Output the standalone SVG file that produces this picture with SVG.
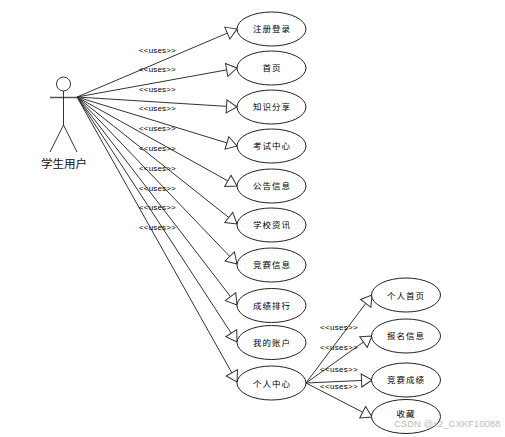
<svg xmlns="http://www.w3.org/2000/svg" width="505" height="437" viewBox="0 0 505 437">
<style>
.c{fill:none;stroke:#333;stroke-width:1;marker-end:url(#a)}
.n ellipse{fill:#fff;stroke:#222;stroke-width:1}
.n text{font:8.500px "Noto Sans CJK SC","Liberation Sans",sans-serif;letter-spacing:1px;text-anchor:middle;fill:#000}
.u{font:8px "Liberation Sans",Arial,sans-serif;fill:#000;letter-spacing:.15px}
.us{font:8px "Liberation Sans",Arial,sans-serif;fill:#000;letter-spacing:.3px}
.s{fill:none;stroke:#333;stroke-width:1}
</style>
<defs><marker id="a" markerUnits="userSpaceOnUse" markerWidth="14" markerHeight="16" viewBox="0 0 14 16" refX="12" refY="8" orient="auto"><path d="M1.500,1.500L12,8L1.500,14.500z" fill="#fff" stroke="#333" stroke-width="1"/></marker></defs>
<rect width="505" height="437" fill="#fff"/>
<g id="connectors">
<path class="c" d="M77,97L237,29"/>
<path class="c" d="M77,97L237,68"/>
<path class="c" d="M77,97L237,107"/>
<path class="c" d="M77,97L237,146"/>
<path class="c" d="M77,97L237,186"/>
<path class="c" d="M77,97L237,224"/>
<path class="c" d="M77,97L237,264"/>
<path class="c" d="M77,97L237,305"/>
<path class="c" d="M77,97L237,342"/>
<path class="c" d="M77,97L237,382"/>
<path class="c" d="M306,383L372,295"/>
<path class="c" d="M306,383L372,336"/>
<path class="c" d="M306,383L372,380"/>
<path class="c" d="M306,383L372,417"/>
</g>
<g id="actor">
<circle class="s" cx="63.500" cy="84" r="7"/>
<path d="M50,97.500H77" stroke="#555" stroke-width="1.500" fill="none"/>
<path class="s" d="M63.500,91V125L50,152M63.500,125L77,152"/>
<text x="64" y="168" font-family="Noto Sans CJK SC,sans-serif" font-size="11.500" text-anchor="middle" fill="#111">学生用户</text>
</g>
<g id="n1" class="n"><ellipse cx="271.500" cy="29" rx="34.500" ry="17"/><text x="272" y="32">注册登录</text></g>
<g id="n2" class="n"><ellipse cx="271.500" cy="68" rx="34.500" ry="17"/><text x="272" y="71">首页</text></g>
<g id="n3" class="n"><ellipse cx="271.500" cy="107" rx="34.500" ry="17"/><text x="272" y="110">知识分享</text></g>
<g id="n4" class="n"><ellipse cx="271.500" cy="146" rx="34.500" ry="17"/><text x="272" y="149">考试中心</text></g>
<g id="n5" class="n"><ellipse cx="271.500" cy="186" rx="34.500" ry="17"/><text x="272" y="189">公告信息</text></g>
<g id="n6" class="n"><ellipse cx="271.500" cy="225" rx="34.500" ry="17"/><text x="272" y="228">学校资讯</text></g>
<g id="n7" class="n"><ellipse cx="271.500" cy="265" rx="34.500" ry="17"/><text x="272" y="268">竞赛信息</text></g>
<g id="n8" class="n"><ellipse cx="271.500" cy="305.500" rx="34.500" ry="17"/><text x="272" y="309">成绩排行</text></g>
<g id="n9" class="n"><ellipse cx="271.500" cy="342.500" rx="34.500" ry="17"/><text x="272" y="346">我的账户</text></g>
<g id="n10" class="n"><ellipse cx="271.500" cy="383" rx="34.500" ry="17"/><text x="272" y="387">个人中心</text></g>
<g id="n11" class="n"><ellipse cx="406" cy="295" rx="34.500" ry="17"/><text x="406" y="299">个人首页</text></g>
<g id="n12" class="n"><ellipse cx="406" cy="336" rx="34.500" ry="17"/><text x="406" y="339">报名信息</text></g>
<g id="n13" class="n"><ellipse cx="406" cy="380" rx="34.500" ry="17"/><text x="406" y="383">竞赛成绩</text></g>
<g id="n14" class="n"><ellipse cx="406" cy="416.500" rx="34.500" ry="17"/><text x="406" y="417">收藏</text></g>
<g id="labels">
<text class="u" x="139" y="53">&lt;&lt;uses&gt;&gt;</text>
<text class="u" x="139" y="72">&lt;&lt;uses&gt;&gt;</text>
<text class="u" x="139" y="92">&lt;&lt;uses&gt;&gt;</text>
<text class="u" x="139" y="111">&lt;&lt;uses&gt;&gt;</text>
<text class="u" x="139" y="131">&lt;&lt;uses&gt;&gt;</text>
<text class="u" x="139" y="151">&lt;&lt;uses&gt;&gt;</text>
<text class="u" x="139" y="171">&lt;&lt;uses&gt;&gt;</text>
<text class="u" x="139" y="191">&lt;&lt;uses&gt;&gt;</text>
<text class="u" x="139" y="210">&lt;&lt;uses&gt;&gt;</text>
<text class="u" x="139" y="230">&lt;&lt;uses&gt;&gt;</text>
<text class="us" x="320" y="329.500">&lt;&lt;uses&gt;&gt;</text>
<text class="us" x="320" y="349.500">&lt;&lt;uses&gt;&gt;</text>
<text class="us" x="320" y="371.500">&lt;&lt;uses&gt;&gt;</text>
<text class="us" x="320" y="389">&lt;&lt;uses&gt;&gt;</text>
</g>
<text x="394" y="427" font-family="Liberation Sans,sans-serif" font-size="9.500" fill="#aaa" fill-opacity=".8">CSDN @x2_CXKF10088</text>
</svg>
